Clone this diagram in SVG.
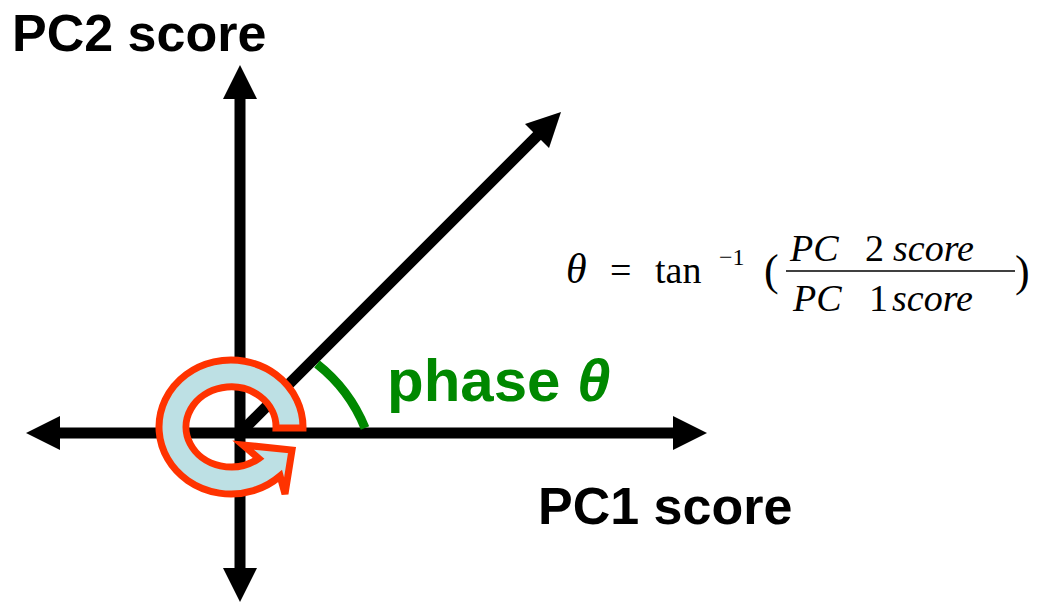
<svg xmlns="http://www.w3.org/2000/svg" width="1040" height="605" viewBox="0 0 1040 605">
  <style>
    .axis { stroke: #000; stroke-width: 11; fill: none; }
    .label { font-family: "Liberation Sans", Arial, sans-serif; font-weight: bold; font-size: 52px; fill: #000; }
    .phase { font-family: "Liberation Sans", Arial, sans-serif; font-weight: bold; font-size: 60px; fill: #008800; }
    .math { font-family: "Liberation Serif", "Times New Roman", serif; font-size: 38px; fill: #000; }
    .it { font-style: italic; }
  </style>
  <defs>
    <marker id="ah" markerUnits="userSpaceOnUse" markerWidth="34" markerHeight="34" viewBox="0 0 34 34" refX="2" refY="17" orient="auto-start-reverse">
      <path d="M0,0 L34,17 L0,34 Z" fill="#000"/>
    </marker>
  </defs>
  <rect width="1040" height="605" fill="#fff"/>

  <g id="connectors">
    <line class="axis" x1="58" y1="433" x2="675" y2="433" marker-start="url(#ah)" marker-end="url(#ah)"/>
    <line class="axis" x1="240" y1="97" x2="240" y2="570" marker-start="url(#ah)" marker-end="url(#ah)"/>
    <line class="axis" x1="240" y1="433" x2="538.4" y2="134.6" marker-end="url(#ah)"/>
    <path id="phase-arc" d="M317,364 A155,155 0 0 1 365,428" fill="none" stroke="#008800" stroke-width="9"/>
  </g>

  <g id="rotation">
    <path d="M303,428 A72,67 0 1 0 280.1,476 L285,494 L292,450 L243,445 L258.7,458.5 A45,40 0 1 1 276,428 Z" fill="#bde0e4" stroke="#ff3300" stroke-width="7" stroke-linejoin="miter"/>
  </g>

  <g id="pc2-label"><text class="label" x="12" y="51">PC2 score</text></g>
  <g id="pc1-label"><text class="label" x="538" y="524">PC1 score</text></g>
  <g id="phase-label"><text class="phase" x="387" y="401">phase <tspan class="it">θ</tspan></text></g>

  <g id="formula" class="math">
    <text class="it" x="566" y="283" font-size="42">θ</text>
    <text x="610" y="283">=</text>
    <text x="655" y="283">tan</text>
    <text x="719" y="265" font-size="24">−1</text>
    <text x="764" y="285" font-size="44">(</text>
    <text x="790" y="261"><tspan class="it">PC</tspan><tspan x="865">2</tspan><tspan class="it" x="893">score</tspan></text>
    <line x1="786" y1="271" x2="1015" y2="271" stroke="#000" stroke-width="1.5"/>
    <text x="793" y="311"><tspan class="it">PC</tspan><tspan x="869">1</tspan><tspan class="it" x="892">score</tspan></text>
    <text x="1015" y="286" font-size="44">)</text>
  </g>
</svg>
